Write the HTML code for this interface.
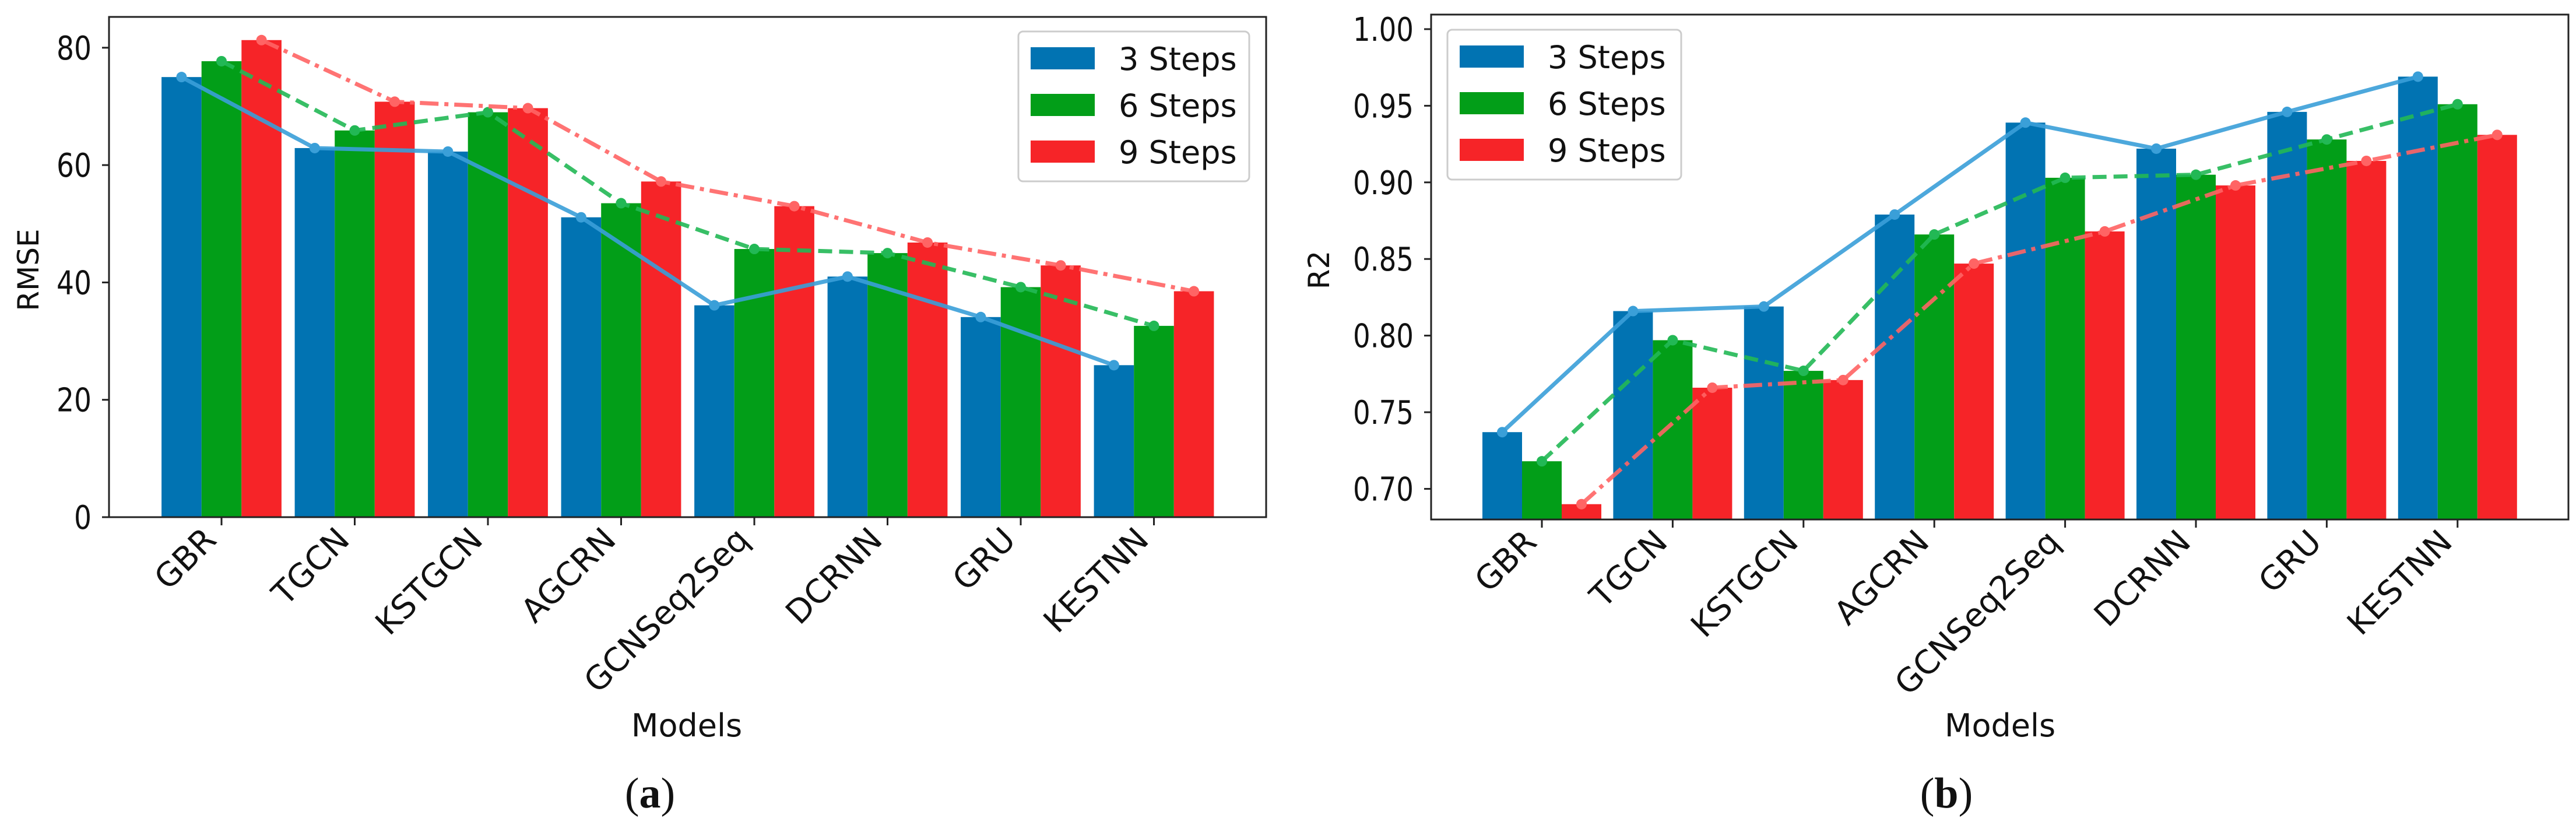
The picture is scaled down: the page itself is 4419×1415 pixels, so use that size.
<!DOCTYPE html>
<html><head><meta charset="utf-8"><style>
html,body{margin:0;padding:0;background:#fff}
svg{display:block}
text{font-family:"DejaVu Sans","Liberation Sans",sans-serif;fill:#111}
</style></head><body>
<svg id="fig" xmlns="http://www.w3.org/2000/svg" width="4419" height="1415" viewBox="0 0 4419 1415"></svg>
<script>
const categories = ["GBR","TGCN","KSTGCN","AGCRN","GCNSeq2Seq","DCRNN","GRU","KESTNN"];
const seriesNames = ["3 Steps","6 Steps","9 Steps"];
const rmse3 = [75.0,62.9,62.3,51.1,36.1,41.0,34.1,25.9];
const rmse6 = [77.7,65.9,69.0,53.5,45.7,45.0,39.2,32.6];
const rmse9 = [81.3,70.8,69.7,57.2,53.0,46.8,42.9,38.5];
const r2_3 = [0.737,0.816,0.819,0.879,0.939,0.922,0.946,0.969];
const r2_6 = [0.718,0.797,0.777,0.866,0.903,0.905,0.928,0.951];
const r2_9 = [0.690,0.766,0.771,0.847,0.868,0.898,0.914,0.931];
const rmseTicks = [0,20,40,60,80];
const r2Ticks = [0.70,0.75,0.80,0.85,0.90,0.95,1.00];

const NS = "http://www.w3.org/2000/svg";
const svg = document.getElementById('fig');
function el(tag, attrs, parent){const e=document.createElementNS(NS,tag);for(const k in attrs)e.setAttribute(k,attrs[k]);(parent||svg).appendChild(e);return e;}
const colors=["#0173b2","#029e18","#f62428"];
const lineColors=["#3a9fd8","#22b855","#ff6464"];
const dashes=["none","24,12","32,10,7,10"];

function panel(cfg){
  const g=el('g',{});
  
  
  const {L,R,T,B,ymin,ymax,x0,dx,bw}=cfg;
  const ys=v=>B-(v-ymin)/(ymax-ymin)*(B-T);
  const xs=i=>x0+dx*i;
  cfg.series.forEach((s,si)=>{
    s.forEach((v,i)=>{
      const r=el('rect',{x:xs(i)+(si-1)*bw-bw/2,y:ys(v),width:bw,height:B-ys(v),fill:colors[si]},g);
      
      
    });
  });
  cfg.series.forEach((s,si)=>{
    const pts=s.map((v,i)=>(xs(i)+(si-1)*bw)+','+ys(v)).join(' ');
    const pl=el('polyline',{points:pts,fill:'none',stroke:lineColors[si],'stroke-width':7,'stroke-dasharray':dashes[si],opacity:0.9},g);
    
    
    s.forEach((v,i)=>{
      const c=el('circle',{cx:xs(i)+(si-1)*bw,cy:ys(v),r:9,fill:lineColors[si]},g);
      
      
    });
  });
  const fr=el('rect',{x:L,y:T,width:R-L,height:B-T,fill:'none',stroke:'#222','stroke-width':3},g);
  
  
  cfg.ticks.forEach(t=>{
    el('line',{x1:L-12,x2:L,y1:ys(t),y2:ys(t),stroke:'#222','stroke-width':3},g);
    const s=cfg.fmt(t);
    const len=s.replace(/\./g,'').length*30+(s.split('.').length-1)*14;
    const tx=el('text',{x:L-30,y:ys(t)+20,'text-anchor':'end','font-size':56,textLength:len,lengthAdjust:'spacingAndGlyphs'},g);
    tx.textContent=s;
    
    
  });
  categories.forEach((c,i)=>{
    el('line',{x1:xs(i),x2:xs(i),y1:B,y2:B+14,stroke:'#222','stroke-width':3},g);
    const tx=el('text',{transform:'translate('+(xs(i)-6)+','+(B+42)+') rotate(-45)','text-anchor':'end','font-size':56},g);
    tx.textContent=c;
    
    
  });
  const yl=el('text',{transform:'translate('+cfg.ylx+',463) rotate(-90)','text-anchor':'middle','font-size':50},g);
  yl.textContent=cfg.ylabel;
  
  
  const xl=el('text',{x:cfg.xlx,y:1263,'text-anchor':'middle','font-size':54},g);
  xl.textContent='Models';
  
  
  const cap=el('text',{x:cfg.capx,y:1385,'text-anchor':'middle','font-size':74,style:'font-family:"Liberation Serif",serif'},g);
  cap.innerHTML='(<tspan font-weight="bold">'+cfg.cap+'</tspan>)';
  
  
  const lg=el('g',{},g);
  
  
  el('rect',{x:cfg.lx,y:cfg.ly,width:cfg.lw,height:257,rx:8,fill:'#fff','fill-opacity':0.85,stroke:'#ccc','stroke-width':3},lg);
  seriesNames.forEach((n,si)=>{
    const cy=cfg.ly+46+80*si;
    const p=el('rect',{x:cfg.lx+21,y:cy-19,width:110,height:38,fill:colors[si]},lg);
    
    
    const t=el('text',{x:cfg.lx+172,y:cy+20,'font-size':54},lg);
    t.textContent=n;
    
    
  });
}
panel({name:'rmse-chart',L:187,R:2172,T:29,B:887,ymin:0,ymax:85.25,x0:380,dx:228.5,bw:68.6,
  series:[rmse3,rmse6,rmse9],ticks:rmseTicks,fmt:t=>String(t),ylabel:'RMSE',ylx:66,xlx:1178,capx:1115,cap:'a',
  lx:1747,ly:54,lw:396});
panel({name:'r2-chart',L:2455,R:4406,T:25,B:891,ymin:0.68,ymax:1.0095,x0:2645,dx:224.4,bw:68,
  series:[r2_3,r2_6,r2_9],ticks:r2Ticks,fmt:t=>t.toFixed(2),ylabel:'R2',ylx:2280,xlx:3431,capx:3339,cap:'b',
  lx:2483,ly:51,lw:401});
</script>
</body></html>
